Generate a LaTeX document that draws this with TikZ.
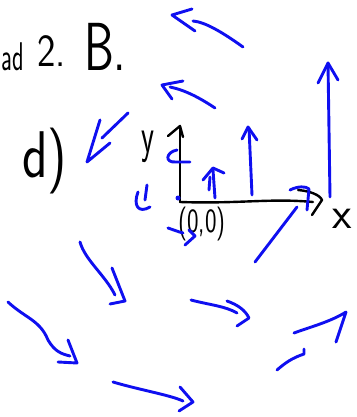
\documentclass[tikz,border=0pt]{standalone}
\usepackage{graphicx}
\definecolor{penblue}{RGB}{15,15,240}
\begin{document}
\begin{tikzpicture}[x=1pt,y=-1pt,
  ink/.style={draw=penblue,line width=2.9pt,line cap=round,line join=round},
  pen/.style={draw=black,line width=2.4pt,line cap=round,line join=round},
  hand/.style={font=\sffamily,inner sep=0pt,text=black}]
\useasboundingbox (0,0) rectangle (356,417);

% ---- texts ----
\node[hand,anchor=base east] (tad) at (24,71) {\fontsize{40}{40}\selectfont\scalebox{0.6}[1]{ad}};
\node[hand,anchor=base west] (ttwo) at (37,67) {\fontsize{46}{46}\selectfont\scalebox{0.85}[1]{2.}};
\node[hand,anchor=base west] (tB) at (84,71) {\fontsize{68}{68}\selectfont\scalebox{0.7}[1]{B.}};
\node[hand,anchor=base west] (td) at (22,177) {\fontsize{66}{66}\selectfont\scalebox{0.8}[1]{d)}};
\node[hand,anchor=base west] (ty) at (141,152) {\fontsize{50}{50}\selectfont\scalebox{0.6}[1]{y}};
\node[hand,anchor=base west] (tx) at (332,228) {\fontsize{45}{45}\selectfont x};
\node[hand,anchor=base west] (to) at (178,232) {\fontsize{34}{34}\selectfont\scalebox{0.72}[1]{(0,0)}};

% ---- axes ----
\coordinate (O) at (180,202);
\coordinate (Ytop) at (180,126);
\coordinate (Xend) at (313,202);
\draw[pen] (O) -- (Ytop);
\draw[pen] (168,136) -- (Ytop) -- (183,137);
\draw[pen] (O) .. controls (240,204) and (270,198) .. (Xend);
\draw[pen] (298,190) .. controls (310,191) and (320,195) .. (322,200) -- (312,215);

% ---- blue vector field ----
% 1 top
\draw[ink] (243,47) .. controls (222,32) and (205,22) .. (193,21);
\draw[ink] (192,9) -- (172,15) -- (195,31);
% 2
\draw[ink] (215,108) .. controls (200,98) and (185,90) .. (170,87);
\draw[ink] (183,81) -- (162,85) -- (172,99);
% 3
\draw[ink] (128,113) -- (102,138);
\draw[ink] (100,120) -- (87,162) -- (110,143);
% 4 small curl
\draw[ink] (177,150) .. controls (166,152) and (164,163) .. (176,162) -- (190,162);
% 5 small up arrow
\draw[ink] (215,198) -- (213,170);
\draw[ink] (209,190) -- (210,177);
\draw[ink] (203,180) -- (213,168) -- (224,173);
% 6
\draw[ink] (252,195) -- (249,128);
\draw[ink] (242,139) -- (248,127) -- (257,140);
% 7 tall
\draw[ink] (330,197) -- (328,63);
\draw[ink] (318,83) -- (328,63) -- (338,80);
% 8
\draw[ink] (290,190) .. controls (298,186) and (306,186) .. (309,189) -- (307,210);
% 9
\draw[ink] (297,207) -- (255,262);
% 10
\draw[ink] (147,185) -- (145,200);
\draw[ink] (138,192) .. controls (133,205) and (138,214) .. (150,207);
% origin dot
\fill[penblue] (178,198) circle (2.5);
% 11
\draw[ink] (168,228) .. controls (174,230) and (179,232) .. (183,233);
\draw[ink] (189,230) -- (195,236) -- (185,245);
% 12
\draw[ink] (80,242) .. controls (85,260) and (105,275) .. (115,295);
\draw[ink] (112,268) -- (125,301) -- (110,304);
% 13
\draw[ink] (8,302) .. controls (25,318) and (40,320) .. (48,340) .. controls (55,352) and (62,354) .. (70,356);
\draw[ink] (68,340) -- (77,363) -- (58,362);
% 14
\draw[ink] (191,300) .. controls (210,305) and (225,306) .. (237,313);
\draw[ink] (227,301) .. controls (238,305) and (245,310) .. (249,318) -- (237,326);
% 15
\draw[ink] (113,382) .. controls (140,390) and (170,395) .. (183,401);
\draw[ink] (180,387) -- (193,402) -- (179,411);
% 16
\draw[ink] (294,333) .. controls (310,327) and (330,322) .. (346,312) -- (336,342);
% 17
\draw[ink] (277,370) .. controls (285,363) and (292,358) .. (304,354) -- (304,349);
\end{tikzpicture}
\end{document}
